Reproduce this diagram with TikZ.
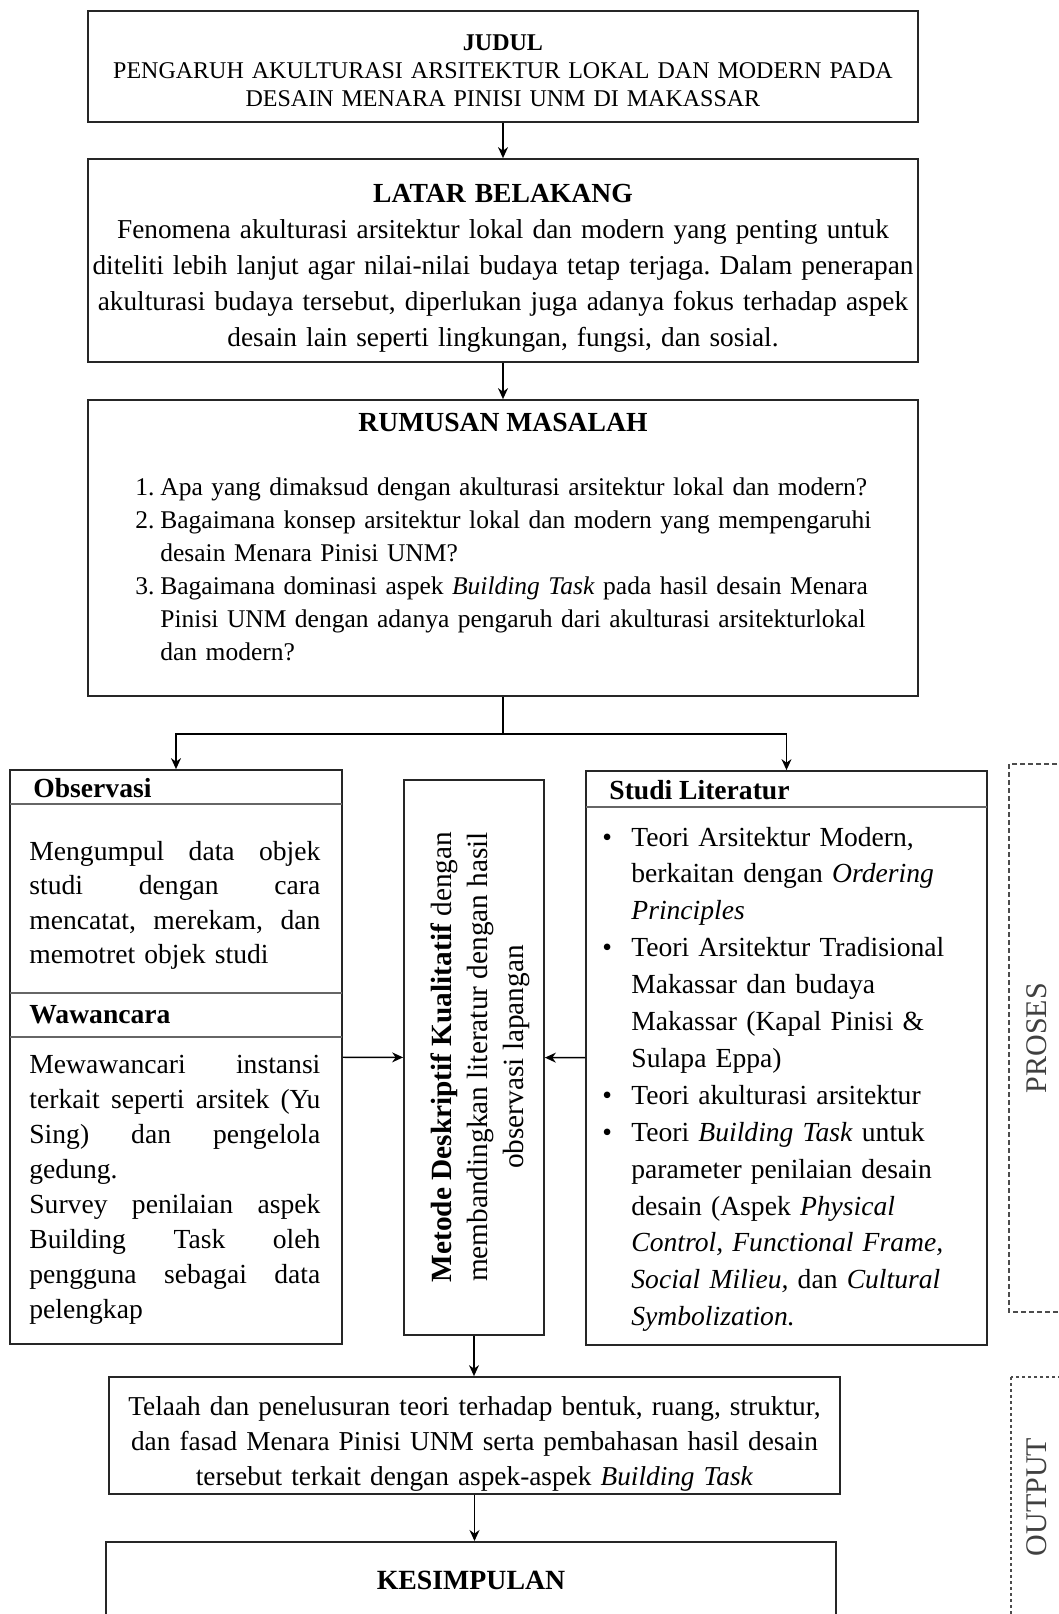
\documentclass[tikz,border=0pt]{standalone}
\usepackage{fontspec}
\setmainfont{Liberation Serif}
\usetikzlibrary{arrows.meta}
\frenchspacing

\begin{document}
\begin{tikzpicture}[x=0.5pt,y=-0.5pt]
\useasboundingbox (0,0) rectangle (1059,1614);
\clip (0,0) rectangle (1059,1614);
\fill[white] (0,0) rectangle (1059,1614);
\begin{scope}[every node/.style={draw=black!85,line width=0.9pt,inner sep=0pt}]
    \node[minimum width=415pt,minimum height=55.5pt] (judul) at (503,66.5) {};
    \node[minimum width=415pt,minimum height=101.5pt] (latar) at (503,260.5) {};
    \node[minimum width=415pt,minimum height=148pt] (rumusan) at (503,548) {};
    \node[minimum width=166pt,minimum height=287pt] (obs) at (176,1057) {};
    \node[minimum width=70pt,minimum height=277.5pt] (metode) at (474,1057.5) {};
    \node[minimum width=200.5pt,minimum height=287pt] (studi) at (786.5,1058) {};
    \node[minimum width=365.5pt,minimum height=58.5pt] (telaah) at (474.5,1435.5) {};
    \node[minimum width=365pt,minimum height=60pt,anchor=north] (kesimpulan) at (471,1541) {};
\end{scope}
\begin{scope}[black!60,line width=1.2pt]
    \draw (10,804) -- (342,804);
    \draw (10,993) -- (342,993);
    \draw (10,1037) -- (342,1037);
    \draw (586,807) -- (987,807);
\end{scope}
\begin{scope}[every node/.style={inner sep=0pt,font=\fontsize{13.8}{17.3}\selectfont}]
    \node[text width=410pt,align=center,font=\fontsize{12}{14}\selectfont] (judultext) at (503,70.5)
        {\textbf{JUDUL}\\PENGARUH AKULTURASI ARSITEKTUR LOKAL DAN MODERN PADA\\DESAIN MENARA PINISI UNM DI MAKASSAR};
    \node[text width=412pt,align=center,font=\fontsize{13.65}{18}\selectfont] (latartext) at (503,268.5)
        {{\fontsize{13.8}{18}\selectfont\bfseries LATAR BELAKANG}\\Fenomena akulturasi arsitektur lokal dan modern yang penting untuk\\diteliti lebih lanjut agar nilai-nilai budaya tetap terjaga. Dalam penerapan\\akulturasi budaya tersebut, diperlukan juga adanya fokus terhadap aspek\\desain lain seperti lingkungan, fungsi, dan sosial.};
    \node[font=\fontsize{13.8}{16}\selectfont\bfseries] (rumhead) at (503,422) {RUMUSAN MASALAH};
    \node[anchor=base west,text width=395pt,align=left,
          font=\fontsize{12.75}{16.5}\selectfont] (rumlist) at (135,495.5)
        {\makebox[12.5pt][l]{1.}Apa yang dimaksud dengan akulturasi arsitektur lokal dan modern?\\
         \makebox[12.5pt][l]{2.}Bagaimana konsep arsitektur lokal dan modern yang mempengaruhi\\
         \hspace*{12.5pt}desain Menara Pinisi UNM?\\
         \makebox[12.5pt][l]{3.}Bagaimana dominasi aspek \textit{Building Task} pada hasil desain Menara\\
         \hspace*{12.5pt}Pinisi UNM dengan adanya pengaruh dari akulturasi arsitekturlokal\\
         \hspace*{12.5pt}dan modern?};
    \node[anchor=west,font=\fontsize{13.8}{17}\selectfont\bfseries] (obshead) at (33,788) {Observasi};
    \node[anchor=base west,text width=145.5pt,align=left] (obstext) at (29,860)
        {Mengumpul\hfill data\hfill objek\\
         studi\hfill dengan\hfill cara\\
         mencatat,\hfill merekam,\hfill dan\\
         memotret objek studi};
    \node[anchor=west,font=\fontsize{13.8}{17}\selectfont\bfseries] (wawhead) at (29,1015) {Wawancara};
    \node[anchor=base west,text width=145.5pt,align=left,
          font=\fontsize{13.8}{17.55}\selectfont] (wawtext) at (29,1073)
        {Mewawancari\hfill instansi\\
         terkait\hfill seperti\hfill arsitek\hfill (Yu\\
         Sing)\hfill dan\hfill pengelola\\
         gedung.\\
         Survey\hfill penilaian\hfill aspek\\
         Building\hfill Task\hfill oleh\\
         pengguna\hfill sebagai\hfill data\\
         pelengkap};
    \node[rotate=90,align=center,font=\fontsize{14.65}{18}\selectfont] (metodetext) at (480,1057)
        {\textbf{Metode Deskriptif Kualitatif} dengan\\membandingkan literatur dengan hasil\\observasi lapangan};
    \node[anchor=west,font=\fontsize{13.8}{17}\selectfont\bfseries] (studihead) at (609,790) {Studi Literatur};
    \node[anchor=base west,text width=190pt,align=left,
          font=\fontsize{13.8}{18.45}\selectfont] (studilist) at (602,846)
        {\makebox[14.5pt][l]{\textbullet}Teori Arsitektur Modern,\\
         \hspace*{14.5pt}berkaitan dengan \textit{Ordering}\\
         \hspace*{14.5pt}\textit{Principles}\\
         \makebox[14.5pt][l]{\textbullet}Teori Arsitektur Tradisional\\
         \hspace*{14.5pt}Makassar dan budaya\\
         \hspace*{14.5pt}Makassar (Kapal Pinisi \&\\
         \hspace*{14.5pt}Sulapa Eppa)\\
         \makebox[14.5pt][l]{\textbullet}Teori akulturasi arsitektur\\
         \makebox[14.5pt][l]{\textbullet}Teori \textit{Building Task} untuk\\
         \hspace*{14.5pt}parameter penilaian desain\\
         \hspace*{14.5pt}desain (Aspek \textit{Physical}\\
         \hspace*{14.5pt}\textit{Control, Functional Frame,}\\
         \hspace*{14.5pt}\textit{Social Milieu,} dan \textit{Cultural}\\
         \hspace*{14.5pt}\textit{Symbolization.}};
    \node[text width=362pt,align=center,font=\fontsize{13.65}{17.5}\selectfont] (telaahtext) at (474.5,1443.5)
        {Telaah dan penelusuran teori terhadap bentuk, ruang, struktur,\\dan fasad Menara Pinisi UNM serta pembahasan hasil desain\\tersebut terkait dengan aspek-aspek \textit{Building Task}};
    \node[font=\fontsize{13.9}{16}\selectfont\bfseries] (kesimhead) at (471,1580) {KESIMPULAN};
\end{scope}
\begin{scope}[every node/.style={draw=black!70,line width=0.7pt,rotate=90,text=black!75,
              font=\fontsize{15}{17}\selectfont}]
    \node[dash pattern=on 2.5pt off 1.5pt,minimum width=274pt,minimum height=28pt] (proses) at (1037,1038) {PROSES};
    \node[dash pattern=on 1.5pt off 1.5pt,minimum width=120pt,minimum height=26pt] (output) at (1037,1497) {OUTPUT};
\end{scope}
\begin{scope}[>={Stealth[length=5.5pt,width=5pt]},line width=0.7pt,
              every edge/.style={draw=black,line width=0.7pt}]
    \coordinate (cabang) at (503,734);
    \path [->] (judul) edge (latar);
    \path [->] (latar) edge (rumusan);
    \path [-] (rumusan) edge (cabang);
    \draw [->] (cabang) -| (obs);
    \draw [->] (cabang) -| (studi);
    \path [->] (obs) edge (metode);
    \path [->] (studi) edge (metode);
    \path [->] (metode) edge (metode |- telaah.north);
    \path [->] (telaah) edge (telaah |- kesimpulan.north);
\end{scope}
\end{tikzpicture}
\end{document}
